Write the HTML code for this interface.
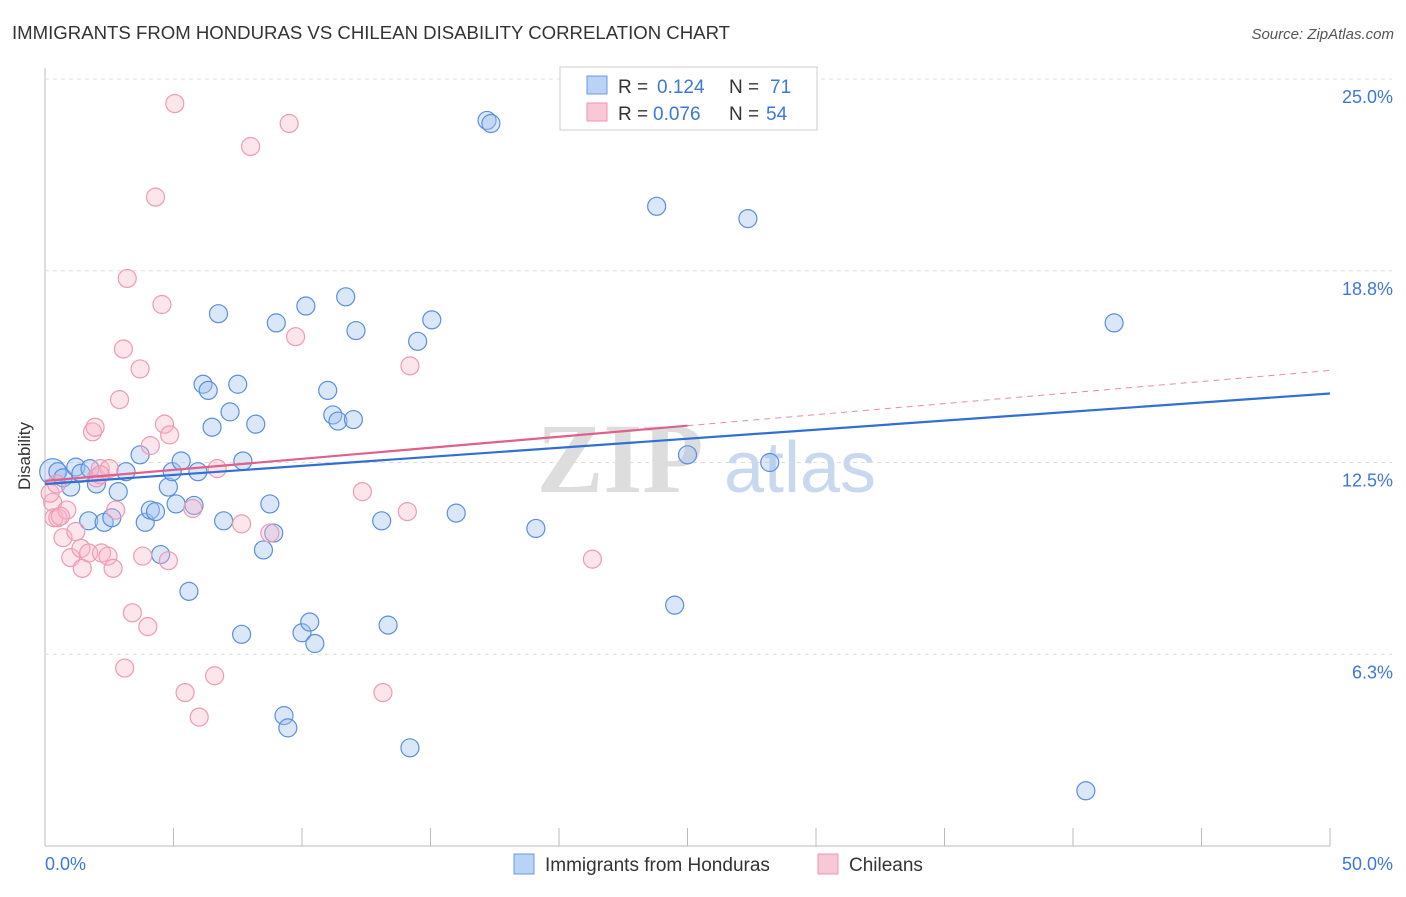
<!DOCTYPE html>
<html><head><meta charset="utf-8"><style>
body{margin:0;background:#fff;font-family:"Liberation Sans",sans-serif}
</style></head><body>
<svg width="1406" height="892" xmlns="http://www.w3.org/2000/svg">
<text x="12" y="39" font-size="18.6" fill="#333">IMMIGRANTS FROM HONDURAS VS CHILEAN DISABILITY CORRELATION CHART</text>
<text x="1394" y="39" font-size="15" fill="#555" font-style="italic" text-anchor="end">Source: ZipAtlas.com</text>
<g id="grid"></g>
<text x="620" y="492" font-size="100" fill="#ddd" font-family="Liberation Serif" font-weight="bold" text-anchor="middle">ZIP</text>
<text x="800" y="492" font-size="72" fill="#c8d8ee" text-anchor="middle">atlas</text>
<g id="pts"></g>
<g id="lines"></g>
<text x="30" y="456" font-size="17" fill="#333" text-anchor="middle" transform="rotate(-90 30 456)">Disability</text>
<g>
<rect x="560" y="67" width="257" height="63" fill="#fff" stroke="#ccc"/>
<rect x="587" y="76" width="20" height="18" fill="#b8d3f5" stroke="#6a9be0"/>
<rect x="587" y="103" width="20" height="18" fill="#f9c8d6" stroke="#ec95ae"/>
<text x="618" y="93" font-size="19" fill="#333">R =</text>
<text x="657" y="93" font-size="19" fill="#3b78d8">0.124</text>
<text x="729" y="93" font-size="19" fill="#333">N =</text>
<text x="770" y="93" font-size="19" fill="#3b78d8">71</text>
<text x="618" y="120" font-size="19" fill="#333">R =</text>
<text x="653" y="120" font-size="19" fill="#3b78d8">0.076</text>
<text x="729" y="120" font-size="19" fill="#333">N =</text>
<text x="766" y="120" font-size="19" fill="#3b78d8">54</text>
</g>
<g>
<rect x="514" y="854" width="20" height="20" fill="#b8d3f5" stroke="#6a9be0"/>
<text x="545" y="871" font-size="19" fill="#333">Immigrants from Honduras</text>
<rect x="818" y="854" width="20" height="20" fill="#f9c8d6" stroke="#ec95ae"/>
<text x="849" y="871" font-size="19" fill="#333">Chileans</text>
</g>
</svg>
<script>
const xTicksVal=[0,50];
const xTickLabels=["0.0%","50.0%"];
const yTicksVal=[25,18.75,12.5,6.25];
const yTickLabels=["25.0%","18.8%","12.5%","6.3%"];
const blueX=[0.3,0.5,0.7,1.0,1.2,1.4,1.75,2.0,1.7,2.3,2.6,2.85,3.15,3.7,3.9,4.1,4.3,4.5,4.8,4.95,5.1,5.3,5.6,5.8,5.95,6.15,6.35,6.75,6.5,6.95,7.2,7.5,7.65,7.7,8.2,8.5,8.75,8.9,9.0,9.3,9.45,10.0,10.15,10.3,10.5,11.0,11.2,11.4,11.7,12.0,12.1,13.1,13.35,14.2,14.5,15.05,16.0,17.2,17.35,19.1,23.8,24.5,25.0,27.35,28.2,40.5,41.6];
const blueY=[12.2,12.2,12.0,11.7,12.35,12.15,12.3,11.8,10.6,10.55,10.7,11.55,12.2,12.75,10.55,10.95,10.9,9.5,11.7,12.2,11.15,12.55,8.3,11.1,12.2,15.05,14.85,17.35,13.65,10.6,14.15,15.05,6.9,12.55,13.75,9.65,11.15,10.2,17.05,4.25,3.85,6.95,17.6,7.3,6.6,14.85,14.05,13.85,17.9,13.9,16.8,10.6,7.2,3.2,16.45,17.15,10.85,23.65,23.55,10.35,20.85,7.85,12.75,20.45,12.5,1.8,17.05];
const pinkX=[0.3,0.35,0.5,0.7,0.85,1.0,1.2,1.4,1.45,1.7,1.85,1.95,2.0,2.15,2.2,2.45,2.5,2.65,2.75,2.9,3.05,3.1,3.2,3.4,3.7,3.8,4.0,4.1,4.3,4.55,4.65,4.8,4.85,5.05,5.45,5.75,6.0,6.6,6.7,7.65,8.0,8.75,9.5,9.75,12.35,13.15,14.1,14.2,21.3,0.2,0.45,2.15,0.6];
const pinkY=[11.2,10.7,10.7,10.05,10.95,9.4,10.25,9.7,9.05,9.55,13.5,13.65,12.0,12.3,9.55,9.45,12.3,9.05,10.95,14.55,16.2,5.8,18.5,7.6,15.55,9.45,7.15,13.05,21.15,17.65,13.75,9.3,13.4,24.2,5.0,11.0,4.2,5.55,12.3,10.5,22.8,10.2,23.55,16.6,11.55,5.0,10.9,15.65,9.35,11.5,11.8,12.1,10.75];
const blueLine=[11.8,14.75];
const pinkLine=[11.9,15.5];
const X=v=>45+v/50*1285, Y=v=>846-v/25*767;
const NS="http://www.w3.org/2000/svg";
function mk(t,a,p){const e=document.createElementNS(NS,t);for(const k in a)e.setAttribute(k,a[k]);p.appendChild(e);return e;}
const grid=document.getElementById('grid');
const ax=mk('line',{x1:45,y1:68,x2:45,y2:846,stroke:'#bbb'},grid);


const bx=mk('line',{x1:45,y1:846,x2:1330,y2:846,stroke:'#bbb'},grid);


for(let i=1;i<=10;i++){const t=mk('line',{x1:45+i*128.5,y1:828,x2:45+i*128.5,y2:846,stroke:'#bbb'},grid);

}
yTicksVal.forEach((v,i)=>{const g=mk('line',{x1:45,y1:Y(v),x2:1392,y2:Y(v),stroke:'#ddd','stroke-dasharray':'4,4'},grid);


const t=mk('text',{x:1393,y:Y(v)+24,'font-size':18,fill:'#3b78d8','text-anchor':'end'},grid);t.textContent=yTickLabels[i];

});
xTicksVal.forEach((v,i)=>{const t=mk('text',{x:i?1393:45,y:870,'font-size':18,fill:'#3b78d8','text-anchor':i?'end':'start'},grid);t.textContent=xTickLabels[i];

});
const pts=document.getElementById('pts');
blueX.forEach((v,i)=>{const c=mk('circle',{cx:X(v),cy:Y(blueY[i]),r:i==0?13:9,fill:'rgba(160,195,240,0.4)',stroke:'#5b8fdd','stroke-width':1.2},pts);

});
pinkX.forEach((v,i)=>{const c=mk('circle',{cx:X(v),cy:Y(pinkY[i]),r:9,fill:'rgba(248,180,200,0.35)',stroke:'#ee9ab3','stroke-width':1.2},pts);

});
const L=document.getElementById('lines');
const pl2=mk('line',{x1:X(25),y1:Y(pinkLine[0]+(pinkLine[1]-pinkLine[0])/2),x2:X(50),y2:Y(pinkLine[1]),stroke:'#e88aa6','stroke-width':1,'stroke-dasharray':'6,5'},L);


const bl=mk('line',{x1:X(0),y1:Y(blueLine[0]),x2:X(50),y2:Y(blueLine[1]),stroke:'#2f6fd6','stroke-width':2.2},L);


const pl=mk('line',{x1:X(0),y1:Y(pinkLine[0]),x2:X(25),y2:Y(pinkLine[0]+(pinkLine[1]-pinkLine[0])/2),stroke:'#e0608a','stroke-width':2.2},L);


</script>
</body></html>
